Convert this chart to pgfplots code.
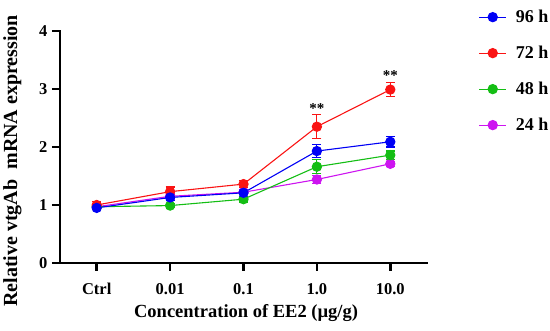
\documentclass[border=0pt]{standalone}
\usepackage{pgfplots}
\pgfplotsset{compat=1.18}
\usepackage{fontspec}
\setmainfont{Liberation Serif}
\definecolor{cblue}{RGB}{0,0,245}
\definecolor{cred}{RGB}{250,20,20}
\definecolor{cgreen}{RGB}{20,190,20}
\definecolor{cmag}{RGB}{205,20,240}
\begin{document}
\begin{tikzpicture}[x=1pt,y=1pt]
\useasboundingbox (0,0) rectangle (550,331);
\begin{axis}[
  at={(60pt,68pt)}, anchor=south west,
  scale only axis, width=367pt, height=232pt,
  xmin=-0.5, xmax=4.5, ymin=0, ymax=4,
  axis lines*=left,
  axis line style={line width=2.6pt, line cap=rect},
  tick style={line width=2.6pt, black},
  major tick length=8pt,
  tick align=outside,
  xtick={0,1,2,3,4},
  xticklabels={Ctrl,0.01,0.1,1.0,10.0},
  ytick={0,1,2,3,4},
  yticklabels={0,1,2,3,4},
  minor tick num=0,
  ticklabel style={font=\bfseries\fontsize{16.5}{18}\selectfont},
  xticklabel style={yshift=-9pt},
  yticklabel style={xshift=-1pt},
  xlabel={Concentration of EE2 (µg/g)},
  ylabel={Relative vtgAb\ \ mRNA expression},
  xlabel style={font=\bfseries\fontsize{18.5}{20}\selectfont, at={(axis description cs:0.507,-0.214)}, anchor=center},
  ylabel style={font=\bfseries\fontsize{20}{22}\selectfont, at={(axis description cs:-0.13,0.44)}, anchor=center},
  legend style={draw=none, at={(1.132,1.108)}, anchor=north west,
    font=\bfseries\fontsize{18}{20}\selectfont, row sep=18pt,
    /tikz/every odd column/.append style={column sep=7pt}},
  legend cell align=left,
  reverse legend,
  legend image code/.code={\draw[#1, line width=1.2pt] (0pt,0pt) -- (27pt,0pt); \draw[#1, mark repeat=1] plot coordinates {(13.5pt,0pt)};},
  every axis plot/.append style={line width=1.1pt, mark=*, mark size=4.6pt,
    error bars/y dir=both, error bars/y explicit,
    error bars/error bar style={line width=1.2pt},
    error bars/error mark options={rotate=90, mark size=4.5pt, line width=1.2pt}},
  clip=false,
]
\addplot[color=cmag, mark options={fill=cmag}] coordinates {
 (0,0.97) +- (0,0.03) (1,1.15) +- (0,0.05) (2,1.22) +- (0,0.04) (3,1.44) +- (0,0.07) (4,1.71) +- (0,0.04)};
\addlegendentry{24 h}
\addplot[color=cgreen, mark options={fill=cgreen}] coordinates {
 (0,0.97) +- (0,0.03) (1,0.99) +- (0,0.03) (2,1.10) +- (0,0.05) (3,1.66) +- (0,0.12) (4,1.86) +- (0,0.07)};
\addlegendentry{48 h}
\addplot[color=cred, mark options={fill=cred}] coordinates {
 (0,1.00) +- (0,0.06) (1,1.23) +- (0,0.08) (2,1.36) +- (0,0.06) (3,2.35) +- (0,0.21) (4,2.99) +- (0,0.12)};
\addlegendentry{72 h}
\addplot[color=cblue, mark options={fill=cblue}] coordinates {
 (0,0.95) +- (0,0.03) (1,1.13) +- (0,0.05) (2,1.21) +- (0,0.06) (3,1.93) +- (0,0.11) (4,2.09) +- (0,0.09)};
\addlegendentry{96 h}
\node[font=\bfseries\fontsize{15}{16}\selectfont] at (axis cs:3,2.66) {**};
\node[font=\bfseries\fontsize{15}{16}\selectfont] at (axis cs:4,3.23) {**};
\end{axis}
\end{tikzpicture}
\end{document}
